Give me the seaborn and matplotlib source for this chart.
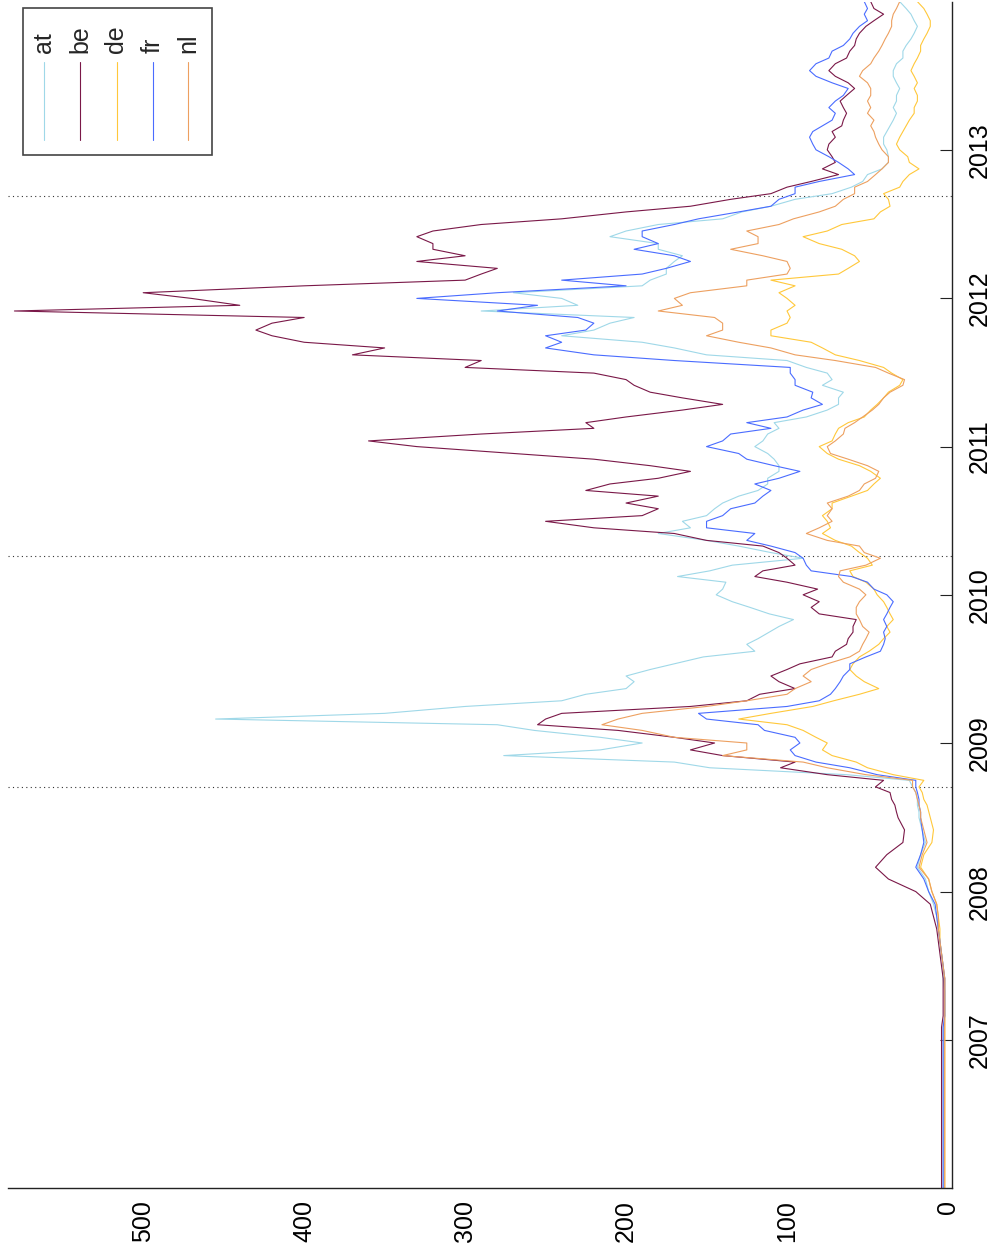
import pandas as pd
import matplotlib
matplotlib.use("Agg")
import matplotlib.pyplot as plt
import matplotlib.dates as mdates
from matplotlib.patches import Rectangle
from matplotlib.lines import Line2D
import seaborn as sns

# === dates: monthly until mid 2008, twice a month afterwards ===
dates_pre = pd.date_range("2006-01-01", "2008-06-01", freq="MS")
dates_main = pd.date_range("2008-07-01", "2014-01-01", freq="SMS")
dates = dates_pre.append(dates_main)

# === values ===
at_pre = [3, 3, 3, 3, 3, 3, 3, 3, 3, 3, 3, 3, 3, 3, 2, 2, 2, 3,
          3, 4, 5, 6, 7, 9, 12, 14, 19, 17, 14, 16]
be_pre = [4, 4, 4, 4, 4, 4, 4, 4, 4, 4, 4, 4, 4, 4, 3, 3, 3, 3,
          4, 5, 6, 7, 9, 11, 20, 37, 45, 38, 28, 27]
de_pre = [2, 2, 2, 2, 2, 2, 2, 2, 2, 2, 2, 2, 2, 2, 2, 2, 2, 2,
          3, 4, 5, 5, 6, 7, 10, 12, 17, 15, 10, 9]
fr_pre = [3, 3, 3, 3, 3, 3, 3, 3, 3, 3, 3, 3, 3, 3, 2, 2, 2, 2,
          3, 4, 5, 6, 7, 8, 12, 15, 20, 17, 15, 16]
nl_pre = [2, 2, 2, 2, 2, 2, 2, 2, 2, 2, 2, 2, 2, 2, 2, 2, 2, 2,
          3, 4, 5, 6, 6, 7, 10, 12, 18, 16, 13, 15]

at_main = [18, 18, 19, 19, 20, 22,
           24, 63, 148, 170, 276, 216,
           190, 216, 257, 280, 455, 350,
           300, 240, 225, 200, 195, 200,
           185, 170, 152, 120, 125, 118,
           111, 105, 96, 111, 123, 134,
           144, 140, 138, 168, 148, 134,
           90, 110, 130, 150, 180, 160,
           165, 150, 145, 140, 130, 118,
           112, 112, 105, 105, 108, 112,
           120, 115, 112, 105, 108, 88,
           75, 68, 68, 65, 78, 72,
           75, 88, 100, 150, 170, 190,
           240, 220, 210, 195, 290, 230,
           240, 270, 190, 185, 175, 175,
           170, 165, 180, 180, 210, 200,
           180, 140, 128, 110, 95, 72,
           60, 53, 50, 41, 37, 37,
           38, 40, 40, 38, 36, 34,
           32, 34, 32, 32, 30, 32,
           34, 34, 32, 28, 28, 26,
           23, 21, 19, 21, 23, 26,
           30]

be_main = [31, 32, 33, 35, 36, 45,
           40, 75, 104, 95, 140, 160,
           145, 170, 205, 255, 250, 240,
           160, 125, 117, 95, 105, 110,
           100, 92, 72, 70, 63, 62,
           59, 59, 57, 80, 85, 80,
           90, 81, 100, 120, 115, 95,
           100, 105, 115, 150, 170, 220,
           250, 190, 180, 200, 180, 225,
           210, 180, 160, 185, 220, 270,
           330, 360, 290, 220, 225, 200,
           165, 140, 165, 185, 195, 200,
           220, 300, 290, 370, 350, 400,
           420, 430, 420, 400, 580, 440,
           470, 500, 400, 300, 290, 280,
           330, 300, 320, 320, 330, 320,
           290, 240, 200, 160, 135, 110,
           100, 85, 68, 78, 70, 72,
           75, 74, 70, 72, 66, 65,
           63, 65, 67, 63, 58, 62,
           70, 74, 70, 63, 61, 58,
           57, 55, 51, 46, 40, 46,
           48]

de_main = [11, 12, 13, 15, 16, 18,
           15, 34, 50, 57, 72, 78,
           75, 82, 90, 100, 130, 110,
           84, 71, 55, 43, 52, 57,
           61, 59, 55, 49, 43, 40,
           36, 38, 34, 36, 38, 40,
           44, 46, 51, 59, 61, 47,
           50, 55, 60, 70, 78, 73,
           75, 78, 72, 72, 60, 50,
           46, 42, 48, 55, 68, 75,
           80, 72, 70, 68, 62, 52,
           48, 44, 40, 37, 30, 28,
           35, 40, 55, 70, 78, 85,
           110, 110, 100, 98, 100, 95,
           100, 105, 95, 110, 68, 62,
           55, 58, 66, 80, 90, 75,
           66, 46, 42, 36, 37, 40,
           30, 28, 24, 18, 24, 25,
           30, 32, 30, 28, 26, 24,
           21, 21, 19, 19, 21, 19,
           21, 23, 21, 19, 17, 17,
           15, 13, 11, 11, 13, 15,
           19]

fr_main = [17, 17, 18, 18, 19, 20,
           20, 44, 61, 82, 95, 98,
           92, 95, 114, 118, 150, 155,
           100, 80, 73, 70, 67, 65,
           61, 61, 51, 42, 40, 39,
           40, 38, 40, 38, 36, 34,
           38, 46, 50, 60, 85, 88,
           90, 95, 110, 125, 120, 150,
           150, 140, 135, 120, 115, 110,
           120, 105, 92, 108, 125, 130,
           150, 140, 135, 110, 125, 100,
           90, 78, 85, 84, 95, 95,
           98, 98, 170, 220, 250, 240,
           250, 225, 220, 230, 280, 255,
           330, 280, 200, 240, 190, 175,
           160, 170, 195, 180, 190, 190,
           170, 155, 130, 110, 105, 95,
           95, 80, 58, 62, 68, 74,
           82, 84, 86, 84, 78, 72,
           70, 74, 70, 65, 62, 72,
           82, 86, 82, 74, 72, 65,
           61, 59, 55, 50, 52, 50,
           52]

nl_main = [17, 17, 18, 19, 20, 22,
           22, 51, 75, 90, 140, 125,
           125, 170, 190, 215, 205, 190,
           150, 125, 100, 95, 85, 90,
           85, 75, 61, 55, 53, 51,
           49, 53, 55, 57, 57, 55,
           51, 55, 65, 68, 67, 51,
           42, 52, 55, 75, 88, 80,
           72, 75, 72, 75, 62, 55,
           52, 45, 43, 50, 62, 73,
           75, 70, 65, 64, 58, 53,
           47, 43, 40, 36, 28, 27,
           37, 45, 70, 95, 110, 130,
           150, 140, 140, 145, 180, 165,
           170, 160, 125, 125, 100, 98,
           100, 115, 135, 118, 118, 125,
           105, 96, 80, 70, 65, 58,
           58, 50, 45, 41, 37, 37,
           41, 43, 45, 46, 48, 46,
           50, 48, 50, 48, 48, 50,
           55, 53, 48, 46, 43, 41,
           39, 37, 35, 35, 34, 32,
           30]

countries = ["at", "be", "de", "fr", "nl"]
colors = {"at": "#9fd8e8", "be": "#7a1848", "de": "#ffc83a",
          "fr": "#4a6cff", "nl": "#eda060"}
event_dates = ["2008-09-15", "2010-04-07", "2012-09-10"]
year_ticks = [2007, 2008, 2009, 2010, 2011, 2012, 2013]
value_ticks = [0, 100, 200, 300, 400, 500]

# === long table for seaborn ===
df = pd.DataFrame({
    "date": dates,
    "at": at_pre + at_main,
    "be": be_pre + be_main,
    "de": de_pre + de_main,
    "fr": fr_pre + fr_main,
    "nl": nl_pre + nl_main,
})
long_df = df.melt(id_vars="date", var_name="country", value_name="spread")

# === figure (drawn already turned by 90 degrees) ===
sns.set_style("white")
plt.rcParams["font.family"] = ["Liberation Sans", "DejaVu Sans"]

W, H = 989, 1254
fig = plt.figure(figsize=(W / 100, H / 100), dpi=100)
ax = fig.add_axes([8 / W, 66 / H, 944 / W, 1186.4 / H])

sns.lineplot(data=long_df, x="spread", y="date", hue="country",
             hue_order=countries, palette=colors, orient="y",
             estimator=None, linewidth=0.8, legend=False, ax=ax)

for d in event_dates:
    ax.axhline(mdates.date2num(pd.Timestamp(d)), color="#333333", lw=0.8,
               ls=(0, (1, 3)), zorder=0.5)

ax.set_xlim(584, -2.5)
ax.set_ylim(mdates.date2num(pd.Timestamp("2006-01-01")),
            mdates.date2num(pd.Timestamp("2014-01-01")))
ax.set_xticks(value_ticks)
ax.set_yticks([mdates.date2num(pd.Timestamp(f"{y}-01-01")) for y in year_ticks])
ax.set_yticklabels([str(y) for y in year_ticks])
ax.yaxis.tick_right()
ax.set_xlabel("")
ax.set_ylabel("")

ax.tick_params(axis="x", direction="in", length=8.6, width=0.8,
               labelsize=18, labelrotation=90, pad=8.5, colors="#222222")
ax.tick_params(axis="y", direction="in", length=9, width=0.8,
               labelsize=18, labelrotation=90, pad=11, colors="#222222",
               left=False, right=True)
for lab in ax.get_yticklabels():
    lab.set_va("center")
    lab.set_ha("left")
for lab in ax.get_xticklabels():
    lab.set_color("black")
for lab in ax.get_yticklabels():
    lab.set_color("black")

for side in ["top", "left"]:
    ax.spines[side].set_visible(False)
for side in ["bottom", "right"]:
    ax.spines[side].set_linewidth(1.0)
    ax.spines[side].set_color("#222222")


# === hand-made legend, turned like the rest ===
def fx(px):
    return px / W


def fy(py):
    return 1 - py / H


fig.add_artist(Rectangle((fx(23), fy(155)), fx(212) - fx(23), fy(8) - fy(155),
                         transform=fig.transFigure, facecolor="white",
                         edgecolor="#444444", lw=1.2, zorder=5))
legend_x = [44, 80, 116.5, 152.5, 188]
for name, xc in zip(countries, legend_x):
    fig.add_artist(Line2D([fx(xc), fx(xc)], [fy(62), fy(140)],
                          transform=fig.transFigure, color=colors[name],
                          lw=0.8, zorder=6))
    fig.text(fx(xc), fy(53), name, rotation=90, ha="center", va="bottom",
             fontsize=18, zorder=6)

fig.savefig("out.png", dpi=100)
